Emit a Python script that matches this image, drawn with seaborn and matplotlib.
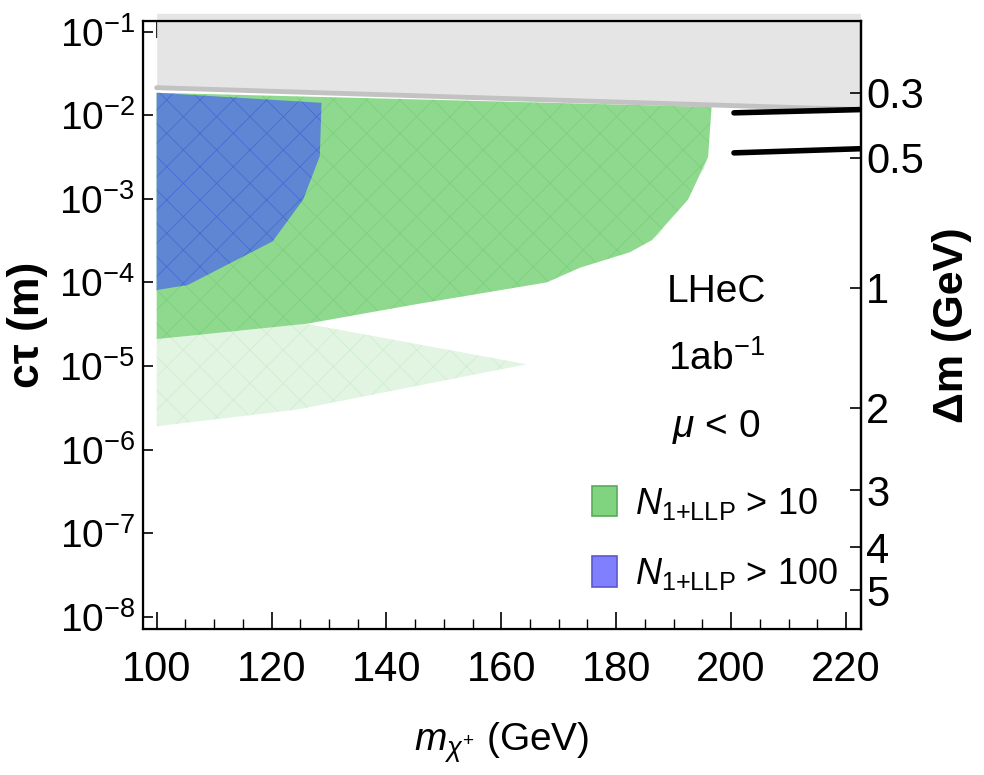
import numpy as np
import matplotlib
matplotlib.use("Agg")
import matplotlib.pyplot as plt
from matplotlib import font_manager
from matplotlib.patches import Patch
from matplotlib.ticker import FixedLocator, FixedFormatter, NullLocator, MultipleLocator
import seaborn as sns

# --- data ---
# N_{1+LLP} > 100 region (blue)
blue_mass = [100, 128.7, 128.4, 125.5, 120.2, 105.4, 100]
blue_ctau = [1.86e-2, 1.41e-2, 3.24e-3, 9.8e-4, 3.1e-4, 9.3e-5, 8.1e-5]

# N_{1+LLP} > 10 region (green)
green_mass = [100, 196.6, 196.0, 192.5, 186.2, 182.4, 173.7, 167.9, 145.3, 126.1, 105.8, 100]
green_ctau = [1.86e-2, 1.26e-2, 3.2e-3, 9.8e-4, 3.2e-4, 2.3e-4, 1.5e-4, 1.0e-4, 5.5e-5,
              3.2e-5, 2.3e-5, 2.1e-5]

# faint extensions of the green region
pale_mass = [100, 126.1, 164.4, 124.4, 100]
pale_ctau = [2.1e-5, 3.2e-5, 1.05e-5, 3.0e-6, 1.9e-6]
sliver_mass = [196.0, 195.2, 192.3, 187.6, 186.2, 192.5]
sliver_ctau = [3.2e-3, 2.25e-3, 1.17e-3, 3.9e-4, 3.2e-4, 9.8e-4]

# excluded (gray) band
gray_mass = [100, 222.5]
gray_low = [2.14e-2, 1.17e-2]
gray_top = 0.166

# black bars on the right
bar_mass = [200.5, 222.5]
bar1_ctau = [1.07e-2, 1.17e-2]
bar2_ctau = [3.55e-3, 3.98e-3]

# right axis: Delta m labels at their c*tau positions
dm_labels = ["0.3", "0.5", "1", "2", "3", "4", "5"]
dm_ctau = [1.854e-2, 3.12e-3, 8.69e-5, 3.16e-6, 3.27e-7, 6.81e-8, 2.08e-8]

ytick_vals = [1e-1, 1e-2, 1e-3, 1e-4, 1e-5, 1e-6, 1e-7, 1e-8]
xtick_vals = [100, 120, 140, 160, 180, 200, 220]

sns.set_style("ticks")
names = {f.name for f in font_manager.fontManager.ttflist}
FONT = "Liberation Sans Narrow" if "Liberation Sans Narrow" in names else "Liberation Sans"
plt.rcParams["font.family"] = [FONT, "DejaVu Sans"]
plt.rcParams["mathtext.fontset"] = "custom"
plt.rcParams["mathtext.rm"] = FONT
plt.rcParams["mathtext.it"] = FONT + ":italic"
plt.rcParams["mathtext.bf"] = FONT + ":bold"
plt.rcParams["hatch.linewidth"] = 0.6
for key in ("text.color", "axes.labelcolor", "xtick.color", "ytick.color", "axes.edgecolor"):
    plt.rcParams[key] = "black"

fig = plt.figure(figsize=(9.84, 7.75), dpi=100)
ax = fig.add_axes([0.1456, 0.188, 0.7291, 0.7853])

green = "#8fd98f"
blue = "#5f86d2"

ax.fill(pale_mass, pale_ctau, facecolor=(0.55, 0.85, 0.55, 0.25), edgecolor=(0.3, 0.7, 0.3, 0.12),
        hatch="x", lw=0, zorder=1)
ax.fill(sliver_mass, sliver_ctau, facecolor=(0.6, 0.88, 0.6, 0.45), lw=0, zorder=1)
ax.fill(green_mass, green_ctau, facecolor=green, edgecolor=(0.35, 0.75, 0.35, 0.35),
        hatch="x", lw=0, zorder=1.1)
ax.fill(blue_mass, blue_ctau, facecolor=blue, edgecolor=(0.15, 0.3, 0.85, 0.45),
        hatch="x", lw=0, zorder=1.2)

ax.fill_between(gray_mass, gray_low, [gray_top, gray_top], color="#e5e5e5", lw=0,
                zorder=1.5, clip_on=False)
sns.lineplot(x=gray_mass, y=gray_low, color="#c2c2c2", lw=3.5, ax=ax, zorder=1.6)

for bar in (bar1_ctau, bar2_ctau):
    sns.lineplot(x=bar_mass, y=bar, color="black", lw=4, ax=ax, zorder=3)

ax.set_yscale("log")
ax.set_xlim(97.67, 222.56)
ax.set_ylim(10 ** -8.151, 10 ** -0.868)

ax.xaxis.set_major_locator(FixedLocator(xtick_vals))
ax.xaxis.set_minor_locator(MultipleLocator(5))
ax.yaxis.set_major_locator(FixedLocator(ytick_vals))
ax.yaxis.set_minor_locator(NullLocator())
ax.yaxis.set_major_formatter(FixedFormatter([r"$10^{%d}$" % int(np.log10(v)) for v in ytick_vals]))

ax.tick_params(axis="x", which="major", direction="in", length=12, width=1.2, top=True,
               labelsize=30, pad=15)
ax.tick_params(axis="x", which="minor", direction="in", length=7, width=1.0, top=True)
ax.tick_params(axis="y", which="major", direction="in", length=7, width=1.2, right=False,
               labelsize=28, pad=6)
for s in ax.spines.values():
    s.set_linewidth(1.6)

ax2 = ax.twinx()
ax2.set_yscale("log")
ax2.set_ylim(ax.get_ylim())
ax2.yaxis.set_major_locator(FixedLocator(dm_ctau))
ax2.yaxis.set_major_formatter(FixedFormatter(dm_labels))
ax2.yaxis.set_minor_locator(NullLocator())
ax2.tick_params(axis="y", direction="in", length=8, width=1.2, labelsize=30, pad=4)
ax2.spines["right"].set_linewidth(1.6)

ax.set_xlabel(r"$m_{\chi^{+}}$ (GeV)", fontsize=28, labelpad=22)
ax.set_ylabel("cτ (m)", fontsize=32, fontweight="bold", labelpad=8)
ax2.set_ylabel("Δm (GeV)", fontsize=31, fontweight="bold", labelpad=6)

ax.text(0.799, 0.538, "LHeC", transform=ax.transAxes, ha="center", va="baseline", fontsize=28)
ax.text(0.799, 0.426, r"1ab$^{-1}$", transform=ax.transAxes, ha="center", va="baseline", fontsize=28)
ax.text(0.799, 0.3165, r"$\mu$ < 0", transform=ax.transAxes, ha="center", va="baseline", fontsize=28)

handles = [Patch(facecolor="#80d480", edgecolor="#5aaa5a", lw=1.2),
           Patch(facecolor="#8080ff", edgecolor="#5a5acc", lw=1.2)]
labels = [r"$N_{\mathrm{1{+}LLP}}$ > 10", r"$N_{\mathrm{1{+}LLP}}$ > 100"]
ax.legend(handles, labels, loc="upper left", bbox_to_anchor=(0.625, 0.236), frameon=False,
          fontsize=26, handlelength=0.7, handleheight=0.92, handletextpad=0.5,
          labelspacing=0.95, borderaxespad=0, borderpad=0)

fig.savefig("out.png", dpi=100)
